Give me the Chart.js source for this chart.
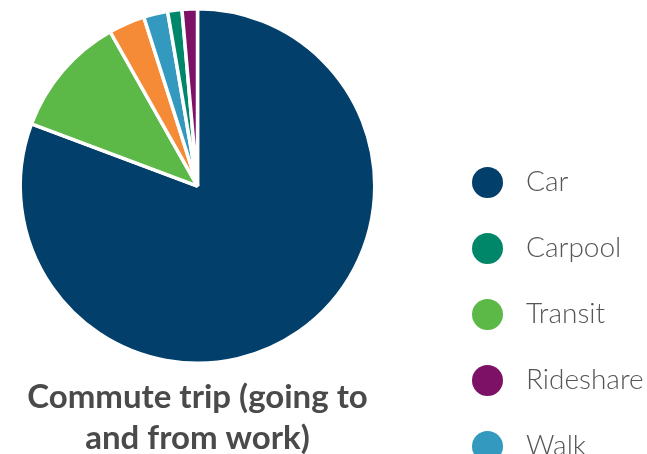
<!DOCTYPE html>
<html>
<head>
<meta charset="utf-8">
<script src="https://cdn.jsdelivr.net/npm/chart.js@4"></script>
<style>
  html, body { margin: 0; padding: 0; background: #fff; overflow: hidden; }
  #wrap { position: relative; width: 647px; height: 454px; overflow: hidden; }
  #legend {
    position: absolute; left: 472px; top: 149px; margin: 0; padding: 0; list-style: none;
    font-family: Lato, "Open Sans", sans-serif; font-weight: 300; font-size: 28px; color: #555;
  }
  #legend li { display: flex; align-items: center; height: 66px; white-space: nowrap; }
  #legend span { display: inline-block; width: 31px; height: 31px; border-radius: 50%; margin-right: 23px; }
  #legend em { font-style: normal; position: relative; top: -2px; }
</style>
</head>
<body>
<div id="wrap">
  <canvas id="commuteChart" width="647" height="459"></canvas>
  <ul id="legend"></ul>
</div>
<script>
// Commute mode share, clockwise from 12 o'clock
const modes = ['Car', 'Transit', 'Bike', 'Walk', 'Carpool', 'Rideshare'];
const shares = [80.7, 11.1, 3.3, 2.2, 1.3, 1.4];
const modeColors = ['#023f6a', '#5cb947', '#f68b37', '#3499be', '#00876a', '#7d1165'];
const legendOrder = ['Car', 'Carpool', 'Transit', 'Rideshare', 'Walk', 'Bike'];

const chart = new Chart(document.getElementById('commuteChart'), {
  type: 'pie',
  data: {
    labels: modes,
    datasets: [{
      data: shares,
      backgroundColor: modeColors,
      borderColor: '#fff',
      borderWidth: 3.5
    }]
  },
  options: {
    responsive: false,
    animation: false,
    layout: { padding: { top: 7, right: 252, bottom: 0, left: 0 } },
    plugins: {
      legend: { display: false },
      tooltip: { enabled: false },
      title: {
        display: true,
        position: 'bottom',
        text: ['Commute trip (going to', 'and from work)'],
        color: '#4a4a4a',
        font: { family: 'Lato', size: 33, weight: 'bold', lineHeight: 1.242 },
        padding: { top: 12, bottom: 0 }
      }
    }
  }
});

// Legend, in the order the original lists it
const items = Chart.overrides.pie.plugins.legend.labels.generateLabels(chart);
items.sort((a, b) => legendOrder.indexOf(a.text) - legendOrder.indexOf(b.text));
const ul = document.getElementById('legend');
items.forEach(item => {
  const li = document.createElement('li');
  const dot = document.createElement('span');
  dot.style.background = item.fillStyle;
  const label = document.createElement('em');
  label.textContent = item.text;
  li.appendChild(dot);
  li.appendChild(label);
  ul.appendChild(li);
});
</script>
</body>
</html>
